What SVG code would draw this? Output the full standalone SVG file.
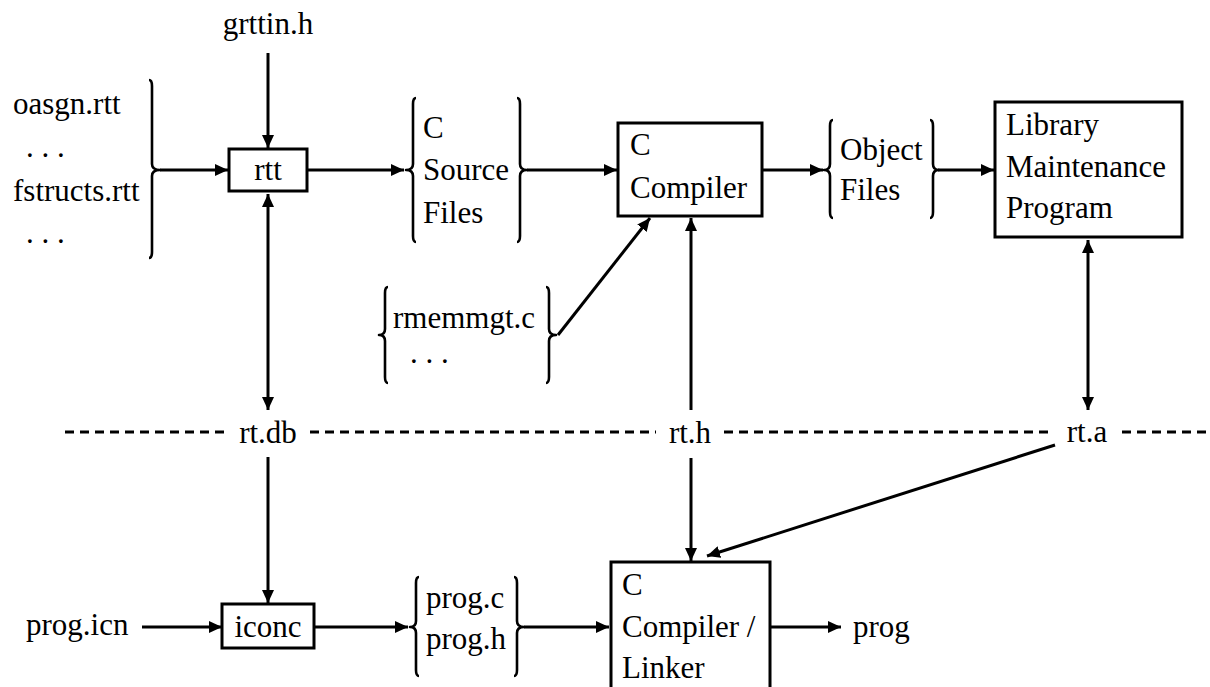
<svg xmlns="http://www.w3.org/2000/svg" width="1210" height="687" viewBox="0 0 1210 687">
<style>
.c{text-anchor:middle}
.box{fill:#fff;stroke:#000;stroke-width:3}
.ln{fill:none;stroke:#000;stroke-width:3}
.br{fill:none;stroke:#000;stroke-width:2.6;stroke-linejoin:round}
.dash{fill:none;stroke:#000;stroke-width:3;stroke-dasharray:9 6}
</style>
<defs>
<marker id="ah" markerUnits="userSpaceOnUse" markerWidth="14" markerHeight="12" refX="13" refY="6" orient="auto-start-reverse">
<path d="M0,0 L13,6 L0,12 z" fill="#000"/>
</marker>
</defs>
<rect width="1210" height="687" fill="#fff"/>

<g id="connectors">
<line class="ln" x1="268" y1="53" x2="268" y2="148" marker-end="url(#ah)"/>
<line class="ln" x1="160" y1="170" x2="228" y2="170" marker-end="url(#ah)"/>
<line class="ln" x1="307" y1="170" x2="404" y2="170" marker-end="url(#ah)"/>
<line class="ln" x1="527" y1="170" x2="617" y2="170" marker-end="url(#ah)"/>
<line class="ln" x1="762" y1="170" x2="823" y2="170" marker-end="url(#ah)"/>
<line class="ln" x1="938" y1="170" x2="994" y2="170" marker-end="url(#ah)"/>
<line class="ln" x1="268" y1="194" x2="268" y2="410" marker-start="url(#ah)" marker-end="url(#ah)"/>
<line class="ln" x1="558" y1="335" x2="650" y2="218" marker-end="url(#ah)"/>
<line class="ln" x1="691" y1="410" x2="691" y2="218" marker-end="url(#ah)"/>
<line class="ln" x1="1088" y1="240" x2="1088" y2="410" marker-start="url(#ah)" marker-end="url(#ah)"/>
<line class="ln" x1="268" y1="457" x2="268" y2="603" marker-end="url(#ah)"/>
<line class="ln" x1="691" y1="458" x2="691" y2="561" marker-end="url(#ah)"/>
<line class="ln" x1="1055" y1="445" x2="707" y2="556" marker-end="url(#ah)"/>
<line class="ln" x1="142" y1="627" x2="222" y2="627" marker-end="url(#ah)"/>
<line class="ln" x1="314" y1="627" x2="408" y2="627" marker-end="url(#ah)"/>
<line class="ln" x1="524" y1="627" x2="609" y2="627" marker-end="url(#ah)"/>
<line class="ln" x1="770" y1="627" x2="841" y2="627" marker-end="url(#ah)"/>
<line class="dash" x1="65" y1="432" x2="228" y2="432"/>
<line class="dash" x1="310" y1="432" x2="656" y2="432"/>
<line class="dash" x1="724" y1="432" x2="1053" y2="432"/>
<line class="dash" x1="1122" y1="432" x2="1210" y2="432"/>
</g>

<g font-family="Liberation Serif, Times New Roman, DejaVu Serif, serif" font-size="31" fill="#000">
<g id="grttin">
<text class="c" x="268" y="34">grttin.h</text>
</g>

<g id="rtt-inputs">
<text x="13" y="114">oasgn.rtt</text>
<text x="26" y="157">. . .</text>
<text x="13" y="201">fstructs.rtt</text>
<text x="26" y="243">. . .</text>
<path class="br" d="M149,80 Q152,80 152,86 L152,164 Q152,170 160,170 Q152,170 152,176 L152,252 Q152,258 149,258"/>
</g>

<g id="rtt">
<rect class="box" x="229" y="149" width="78" height="42"/>
<text class="c" x="268" y="180">rtt</text>
</g>

<g id="c-source">
<path class="br" d="M416,98 Q413,98 413,104 L413,164 Q413,170 406,170 Q413,170 413,176 L413,236 Q413,242 416,242"/>
<text x="423" y="138">C</text>
<text x="423" y="180">Source</text>
<text x="423" y="223">Files</text>
<path class="br" d="M517,98 Q520,98 520,104 L520,164 Q520,170 527,170 Q520,170 520,176 L520,236 Q520,242 517,242"/>
</g>

<g id="c-compiler">
<rect class="box" x="618" y="123" width="144" height="93"/>
<text x="630" y="155">C</text>
<text x="630" y="198">Compiler</text>
</g>

<g id="object-files">
<path class="br" d="M833,120 Q830,120 830,126 L830,164 Q830,170 824,170 Q830,170 830,176 L830,212 Q830,218 833,218"/>
<text x="840" y="160">Object</text>
<text x="840" y="200">Files</text>
<path class="br" d="M930,120 Q933,120 933,126 L933,164 Q933,170 939,170 Q933,170 933,176 L933,212 Q933,218 930,218"/>
</g>

<g id="library">
<rect class="box" x="995" y="102" width="187" height="135"/>
<text x="1006" y="135">Library</text>
<text x="1006" y="177">Maintenance</text>
<text x="1006" y="218">Program</text>
</g>

<g id="rmemmgt">
<path class="br" d="M388,287 Q385,287 385,293 L385,329 Q385,335 379,335 Q385,335 385,341 L385,377 Q385,383 388,383"/>
<text x="393" y="328">rmemmgt.c</text>
<text x="410" y="363">. . .</text>
<path class="br" d="M546,287 Q549,287 549,293 L549,329 Q549,335 556,335 Q549,335 549,341 L549,377 Q549,383 546,383"/>
</g>

<g id="rt-db"><text class="c" x="268" y="443">rt.db</text></g>
<g id="rt-h"><text class="c" x="690" y="443">rt.h</text></g>
<g id="rt-a"><text class="c" x="1087" y="442">rt.a</text></g>

<g id="prog-icn"><text x="26" y="635">prog.icn</text></g>

<g id="iconc">
<rect class="box" x="222" y="604" width="92" height="44"/>
<text class="c" x="268" y="637">iconc</text>
</g>

<g id="prog-ch">
<path class="br" d="M419,577 Q416,577 416,583 L416,621 Q416,627 410,627 Q416,627 416,633 L416,670 Q416,676 419,676"/>
<text x="426" y="608">prog.c</text>
<text x="426" y="649">prog.h</text>
<path class="br" d="M514,577 Q517,577 517,583 L517,621 Q517,627 524,627 Q517,627 517,633 L517,670 Q517,676 514,676"/>
</g>

<g id="c-linker">
<rect class="box" x="611" y="562" width="159" height="140"/>
<text x="622" y="595">C</text>
<text x="622" y="637">Compiler /</text>
<text x="622" y="678">Linker</text>
</g>

<g id="prog"><text x="853" y="637">prog</text></g>
</g>
</svg>
